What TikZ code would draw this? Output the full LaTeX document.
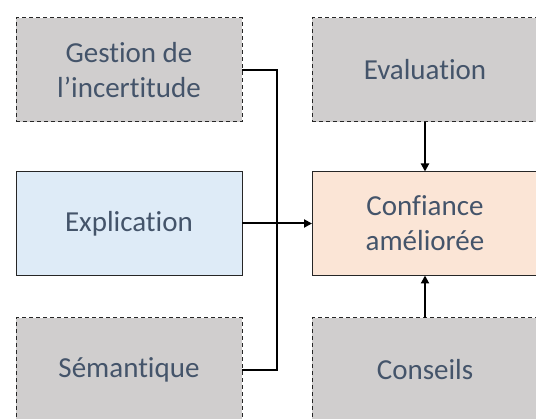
\documentclass[tikz,border=0pt]{standalone}
\usepackage{fontspec}
\setmainfont{Carlito}[Ligatures={NoCommon,NoContextual}]
\usetikzlibrary{arrows.meta}
\definecolor{boxgrey}{HTML}{D0CECE}
\definecolor{boxblue}{HTML}{DEEBF7}
\definecolor{boxorange}{HTML}{FBE5D6}
\definecolor{txt}{HTML}{44546A}
\tikzset{
  basebox/.style={rectangle, minimum width=226pt, minimum height=104pt, inner sep=0pt, outer sep=0pt,
    line width=1pt, text=txt, align=center, font=\fontsize{29}{35}\selectfont},
  greybox/.style={basebox, draw=black!85, fill=boxgrey, dash pattern=on 4pt off 3pt},
  bluebox/.style={basebox, draw=black!85, fill=boxblue},
  orangebox/.style={basebox, draw=black!85, fill=boxorange},
  conn/.style={line width=2pt, draw=black},
  arr/.style={conn, -{Triangle[length=8pt,width=8pt]}},
}
\begin{document}
\begin{tikzpicture}[x=1pt,y=-1pt]
\useasboundingbox (0,0) rectangle (536,419);
\clip (0,0) rectangle (536,419);
\node[greybox] (ges) at (129,70) {Gestion de\\l’incertitude};
\node[greybox] (eva) at (425,70) {Evaluation};
\node[bluebox] (exp) at (129,223.5) {Explication};
\node[orangebox] (conf) at (425,223.5) {Confiance\\améliorée};
\node[greybox] (sem) at (129,370) {Sémantique};
\node[greybox] (cons) at (425,370) {Conseils};
\coordinate (bus) at (277,223.5);
\draw[conn] (ges.east) -| (bus);
\draw[conn] (sem.east) -| (bus);
\draw[arr] (exp.east) -- (conf.west);
\draw[arr] (eva.south) -- (conf.north);
\draw[arr] (cons.north) -- (conf.south);
\end{tikzpicture}
\end{document}
